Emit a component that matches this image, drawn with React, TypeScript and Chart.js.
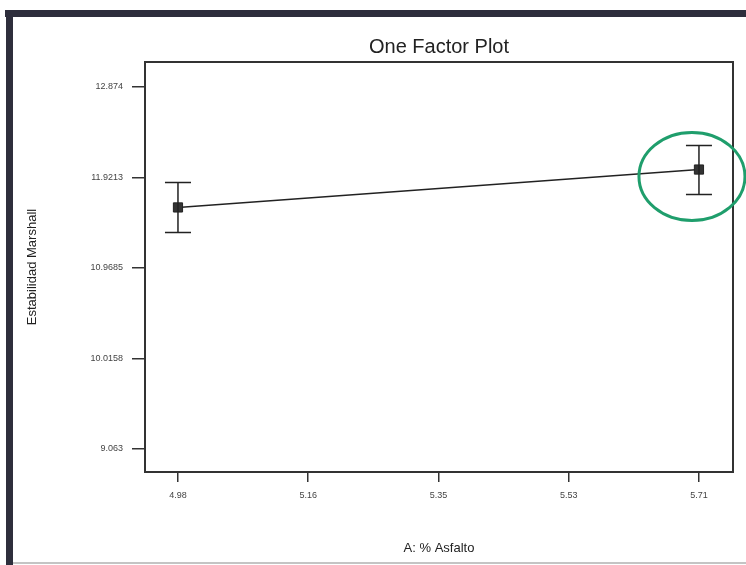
import React, { useEffect, useRef } from "react";
import { Chart, registerables } from "chart.js";

Chart.register(...registerables);

const xValues = [4.98, 5.71];
const meanValues = [11.606, 12.005];
const lowerValues = [11.342, 11.742];
const upperValues = [11.869, 12.258];

const xTickValues = [4.98, 5.1625, 5.345, 5.5275, 5.71];
const xTickLabels = ["4.98", "5.16", "5.35", "5.53", "5.71"];
const yTickValues = [9.063, 10.0158, 10.9685, 11.9213, 12.874];
const yTickLabels = ["9.063", "10.0158", "10.9685", "11.9213", "12.874"];

const titleText = "One Factor Plot";
const xTitle = "A: % Asfalto";
const yTitle = "Estabilidad Marshall";
const highlightIndex = 1;

const W = 746;
const H = 565;
const FONT = "'Liberation Sans', Arial, sans-serif";

const framePlugin = {
  id: "frame",
  beforeDraw(chart: any) {
    const ctx = chart.ctx;
    ctx.save();
    ctx.fillStyle = "#ffffff";
    ctx.fillRect(0, 0, W, H);
    ctx.fillStyle = "#2e2e3c";
    ctx.fillRect(5, 10, W - 5, 7);
    ctx.fillRect(6, 10, 7, H - 10);
    ctx.fillStyle = "#c4c4c4";
    ctx.fillRect(13, H - 3, W - 13, 2);
    ctx.restore();
  },
  afterDraw(chart: any) {
    const ctx = chart.ctx;
    const a = chart.chartArea;
    ctx.save();
    ctx.strokeStyle = "#333333";
    ctx.lineWidth = 2;
    ctx.strokeRect(a.left, a.top, a.right - a.left, a.bottom - a.top);
    // title centred over the plot box
    ctx.fillStyle = "#222222";
    ctx.font = `20px ${FONT}`;
    ctx.textAlign = "center";
    ctx.textBaseline = "middle";
    ctx.fillText(titleText, (a.left + a.right) / 2, 47);
    // highlight ellipse around selected point
    const xs = chart.scales.x;
    const ys = chart.scales.y;
    const px = xs.getPixelForValue(xValues[highlightIndex]);
    const py = ys.getPixelForValue(meanValues[highlightIndex]);
    ctx.strokeStyle = "#1f9e6c";
    ctx.lineWidth = 3;
    ctx.beginPath();
    ctx.ellipse(px - 7, py + 7, 53, 44, 0, 0, Math.PI * 2);
    ctx.stroke();
    ctx.restore();
  },
};

const errorBarPlugin = {
  id: "errorBars",
  afterDatasetsDraw(chart: any) {
    const ctx = chart.ctx;
    const xs = chart.scales.x;
    const ys = chart.scales.y;
    ctx.save();
    ctx.strokeStyle = "#222222";
    ctx.lineWidth = 1.5;
    const cap = 13;
    for (let i = 0; i < xValues.length; i++) {
      const px = xs.getPixelForValue(xValues[i]);
      const pTop = ys.getPixelForValue(upperValues[i]);
      const pBot = ys.getPixelForValue(lowerValues[i]);
      ctx.beginPath();
      ctx.moveTo(px, pTop);
      ctx.lineTo(px, pBot);
      ctx.moveTo(px - cap, pTop);
      ctx.lineTo(px + cap, pTop);
      ctx.moveTo(px - cap, pBot);
      ctx.lineTo(px + cap, pBot);
      ctx.stroke();
    }
    ctx.restore();
  },
};

export default function App() {
  const ref = useRef<HTMLCanvasElement | null>(null);

  useEffect(() => {
    if (!ref.current) return;
    const chart = new Chart(ref.current, {
      type: "scatter",
      data: {
        datasets: [
          {
            data: xValues.map((x, i) => ({ x, y: meanValues[i] })),
            showLine: true,
            borderColor: "#222222",
            borderWidth: 1.5,
            backgroundColor: "#333333",
            pointStyle: "rect",
            pointRadius: 6.5,
            pointBorderColor: "#222222",
            pointBorderWidth: 1,
          },
        ],
      },
      options: {
        responsive: false,
        animation: false,
        layout: { padding: { left: 0, right: 13, top: 62, bottom: 0 } },
        plugins: {
          legend: { display: false },
          tooltip: { enabled: false },
          title: { display: false },
        },
        scales: {
          x: {
            type: "linear",
            min: 4.9338,
            max: 5.7577,
            afterBuildTicks(scale: any) {
              scale.ticks = xTickValues.map((v) => ({ value: v }));
            },
            afterFit(scale: any) {
              scale.height = 93;
            },
            ticks: {
              color: "#444444",
              font: { family: FONT, size: 9 },
              padding: 8,
              maxRotation: 0,
              autoSkip: false,
              callback: (v: any, i: number) => xTickLabels[i],
            },
            grid: {
              drawOnChartArea: false,
              drawTicks: true,
              tickLength: 10,
              color: "#333333",
              lineWidth: 1.5,
            },
            border: { display: false },
            title: {
              display: true,
              text: xTitle,
              color: "#222222",
              font: { family: FONT, size: 13 },
              padding: { top: 0, bottom: 9 },
            },
          },
          y: {
            type: "linear",
            min: 8.821,
            max: 13.137,
            afterBuildTicks(scale: any) {
              scale.ticks = yTickValues.map((v) => ({ value: v }));
            },
            afterFit(scale: any) {
              scale.width = 145;
            },
            ticks: {
              color: "#444444",
              font: { family: FONT, size: 9 },
              padding: 9,
              autoSkip: false,
              callback: (v: any, i: number) => yTickLabels[i],
            },
            grid: {
              drawOnChartArea: false,
              drawTicks: true,
              tickLength: 13,
              color: "#333333",
              lineWidth: 1.5,
            },
            border: { display: false },
            title: {
              display: true,
              text: yTitle,
              color: "#222222",
              font: { family: FONT, size: 13 },
              padding: { top: 25, bottom: 0 },
            },
          },
        },
      },
      plugins: [framePlugin, errorBarPlugin],
    } as any);
    return () => chart.destroy();
  }, []);

  return (
    <div style={{ position: "absolute", left: 0, top: 0, width: W, height: H, background: "#fff" }}>
      <canvas ref={ref} width={W} height={H} style={{ display: "block" }} />
    </div>
  );
}
